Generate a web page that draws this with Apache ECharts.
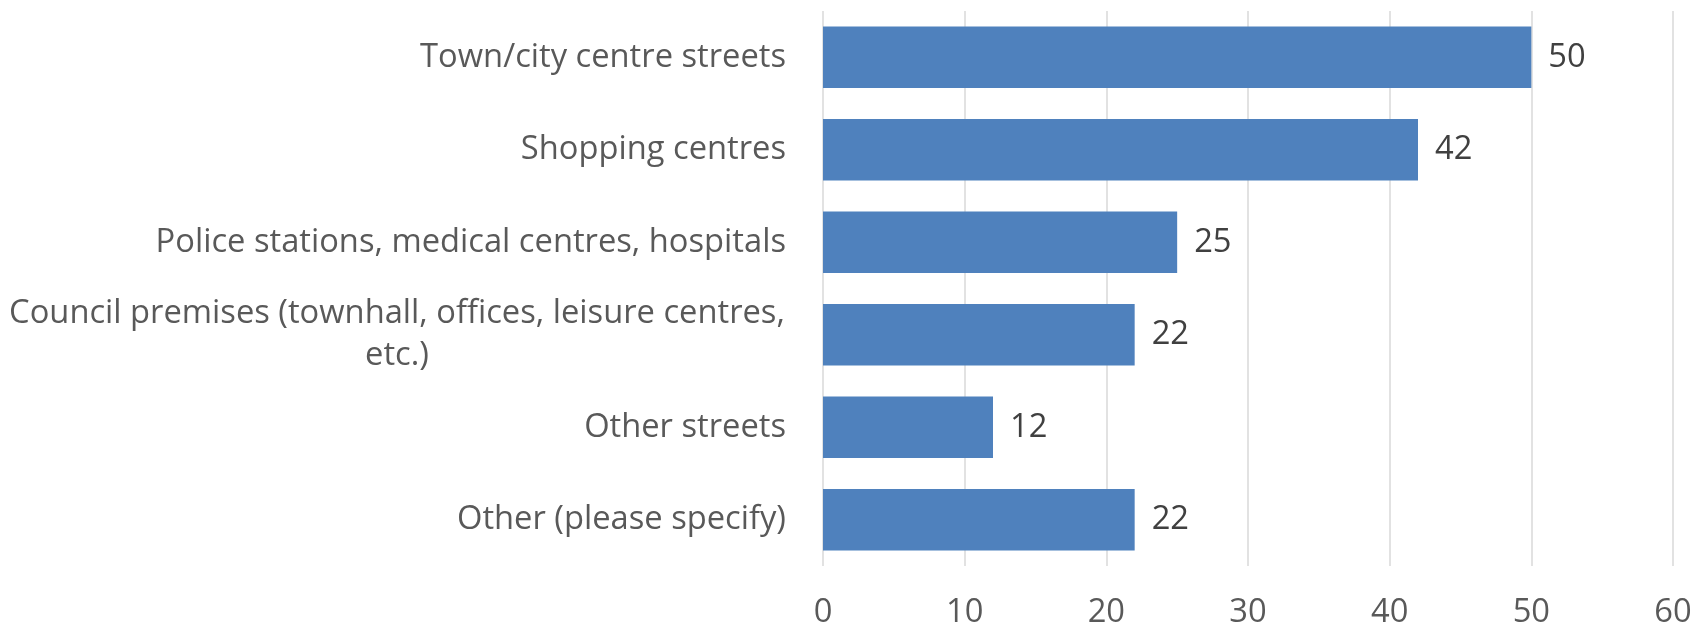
<!DOCTYPE html>
<html>
<head>
<meta charset="utf-8">
<script src="https://cdn.jsdelivr.net/npm/echarts@6/dist/echarts.min.js"></script>
<style>
html,body{margin:0;padding:0;background:#fff;}
#chart{width:1705px;height:631px;}
</style>
</head>
<body>
<div id="chart"></div>
<script>
var categories = [
  "Town/city centre streets",
  "Shopping centres",
  "Police stations, medical centres, hospitals",
  "Council premises (townhall, offices, leisure centres,\netc.)",
  "Other streets",
  "Other (please specify)"
];
var values = [50, 42, 25, 22, 12, 22];
var xTicks = [0, 10, 20, 30, 40, 50, 60];

var FONT = "'Open Sans', 'Noto Sans', sans-serif";
var FS = 32.7;
var chart = echarts.init(document.getElementById('chart'), null, {renderer: 'canvas'});
chart.setOption({
  animation: false,
  backgroundColor: '#ffffff',
  grid: {left: 823, right: 32, top: 11, bottom: 65, containLabel: false},
  xAxis: {
    type: 'value',
    min: xTicks[0],
    max: xTicks[xTicks.length - 1],
    interval: 10,
    axisLine: {show: false},
    axisTick: {show: false},
    splitLine: {show: true, lineStyle: {color: '#d9d9d9', width: 1.5}},
    axisLabel: {color: '#595959', fontFamily: FONT, fontSize: FS, margin: 30}
  },
  yAxis: {
    type: 'category',
    inverse: true,
    data: categories,
    axisLine: {show: false},
    axisTick: {show: false},
    axisLabel: {
      color: '#595959', fontFamily: FONT, fontSize: FS, margin: 37,
      formatter: function (v) {
        if (v.indexOf('\n') >= 0) {
          var parts = v.split('\n');
          return '{w|' + parts[0] + '}\n{w|' + parts[1] + '}';
        }
        return v;
      },
      rich: {
        w: {color: '#595959', fontFamily: FONT, fontSize: FS, width: 778, align: 'center', lineHeight: 42}
      }
    }
  },
  series: [{
    type: 'bar',
    data: values,
    barCategoryGap: '33.5%',
    itemStyle: {color: '#4f81bd'},
    label: {show: true, position: 'right', distance: 17, color: '#404040', fontFamily: FONT, fontSize: FS}
  }]
});
</script>
</body>
</html>
